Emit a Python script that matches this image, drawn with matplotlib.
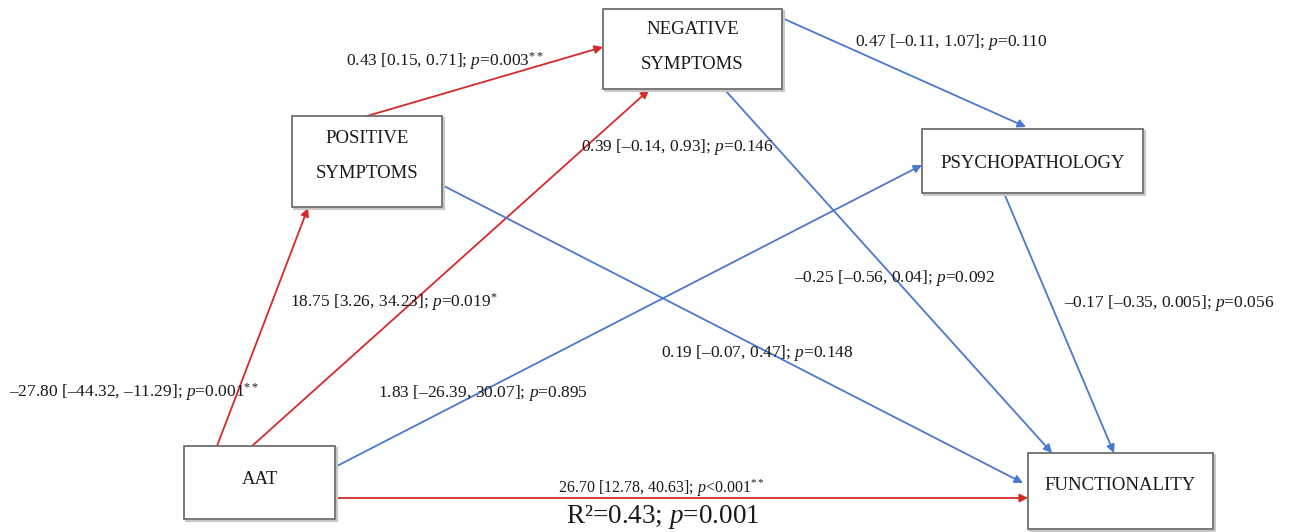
''' path model diagram: AAT -> symptoms -> functionality
'''
import matplotlib.pyplot as plt
from matplotlib.patches import Rectangle

# node names (two-line names split with \n)
nodes = ['AAT', 'POSITIVE\nSYMPTOMS', 'NEGATIVE\nSYMPTOMS',
         'PSYCHOPATHOLOGY', 'FUNCTIONALITY']

# path coefficients: estimate, CI low, CI high, p, significance stars
# last entry is printed in the figure without an arrow of its own
paths = ['AAT->POS', 'AAT->NEG', 'POS->NEG', 'AAT->PSY', 'AAT->FUN',
         'POS->FUN', 'NEG->PSY', 'NEG->FUN', 'PSY->FUN', 'extra']
est = [-27.80, 18.75, 0.43, 1.83, 26.70, 0.19, 0.47, -0.25, -0.17, 0.39]
ci_lo = [-44.32, 3.26, 0.15, -26.39, 12.78, -0.07, -0.11, -0.56, -0.35, -0.14]
ci_hi = [-11.29, 34.23, 0.71, 30.07, 40.63, 0.47, 1.07, 0.04, 0.005, 0.93]
p_val = [0.001, 0.019, 0.003, 0.895, 0.001, 0.148, 0.110, 0.092, 0.056, 0.146]
p_op = ['=', '=', '=', '=', '<', '=', '=', '=', '=', '=']
stars = ['**', '*', '**', '', '**', '', '', '', '', '']
r2 = 0.43
r2_p = 0.001

red = '#d42a2a'
blue = '#4a78d0'
ink = '#1a1a1a'

# layout in image pixels (y down)
W, H = 1290, 532
boxes = {  # x0, y0, x1, y1
    'AAT': (184, 446, 335, 519),
    'POS': (292, 116, 442, 207),
    'NEG': (603, 9, 782, 89),
    'PSY': (922, 129, 1143, 193),
    'FUN': (1028, 453, 1213, 529),
}
text_y = {'AAT': 479, 'POS': 156, 'NEG': 47, 'PSY': 163, 'FUN': 486}
arrows = [
    ((217, 446), (308, 208)),
    ((252, 446), (649, 90)),
    ((367, 116), (603, 47)),
    ((335, 467), (922, 165)),
    ((335, 498), (1028, 498)),
    ((442, 185), (1023, 483)),
    ((782, 18), (1026, 127)),
    ((725, 90), (1052, 453)),
    ((1004, 193), (1114, 453)),
    None,
]
label_pos = [(9, 392), (290, 302), (346, 61), (378, 393), (558, 488),
             (661, 353), (855, 42), (794, 278), (1064, 303), (581, 147)]


def fmt(v):
    s = '%.3f' % v if 0 < abs(v) < 0.01 else '%.2f' % v
    return s.replace('-', '\u2013')


plt.rcParams['font.family'] = ['Liberation Serif', 'DejaVu Serif']
plt.rcParams['mathtext.fontset'] = 'custom'
plt.rcParams['mathtext.rm'] = 'Liberation Serif'
plt.rcParams['mathtext.it'] = 'Liberation Serif:italic'

fig = plt.figure(figsize=(W / 100, H / 100), dpi=100)
ax = fig.add_axes([0, 0, 1, 1])
ax.set_xlim(0, W)
ax.set_ylim(H, 0)
ax.axis('off')

for key, name in zip(boxes, nodes):
    x0, y0, x1, y1 = boxes[key]
    # faint shadow then box
    ax.add_patch(Rectangle((x0 + 1.5, y0 + 1.5), x1 - x0, y1 - y0,
                           fc='none', ec='#c8c8c8', lw=1.5, zorder=2))
    ax.add_patch(Rectangle((x0, y0), x1 - x0, y1 - y0,
                           fc='white', ec='#6e6e6e', lw=1.3, zorder=3))
    ax.text((x0 + x1) / 2, text_y[key], name, ha='center', va='center',
            fontsize=13.5, color=ink, linespacing=2.45, zorder=4)

for i in range(len(paths)):
    col = red if stars[i] else blue
    if arrows[i] is not None:
        start, end = arrows[i]
        ax.annotate('', xy=end, xytext=start,
                    arrowprops=dict(arrowstyle='-|>', color=col, lw=1.3,
                                    mutation_scale=12, shrinkA=0, shrinkB=0),
                    zorder=1)
    txt = '%s [%s, %s]; $p$%s%.3f' % (fmt(est[i]), fmt(ci_lo[i]),
                                     fmt(ci_hi[i]), p_op[i], p_val[i])
    if stars[i]:
        txt += '$^{%s}$' % stars[i]
    fs = 11.5 if paths[i] == 'AAT->FUN' else 12.5
    ax.text(label_pos[i][0], label_pos[i][1], txt, ha='left', va='center',
            fontsize=fs, color=ink, zorder=5)

ax.text(566, 517, 'R\u00b2=%.2f; $p$=%.3f' % (r2, r2_p), ha='left',
        va='center', fontsize=19.5, color=ink, zorder=5)

fig.savefig('out.png', dpi=100)
